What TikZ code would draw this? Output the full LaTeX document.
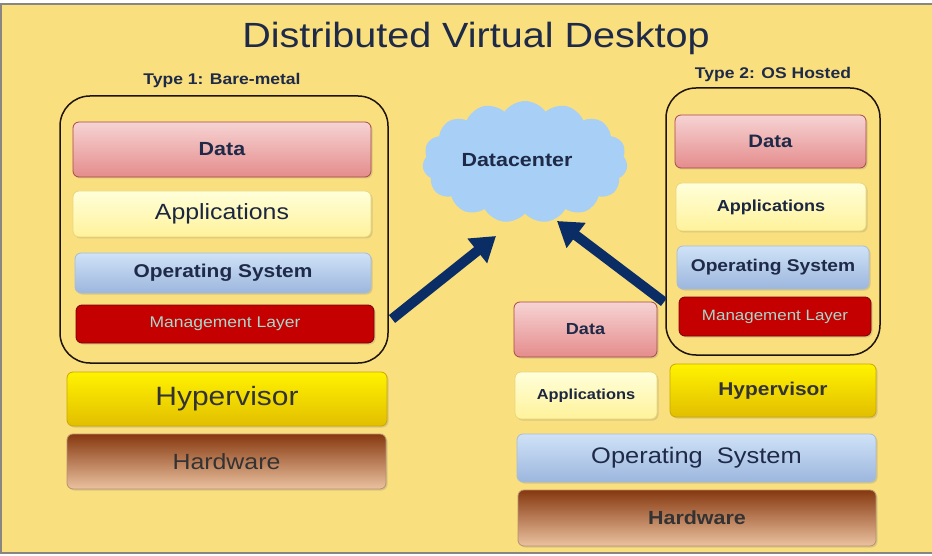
\documentclass[tikz,border=0pt]{standalone}
\usepackage{fontspec}
\setmainfont{Liberation Sans}[FakeStretch=1.13]
\usetikzlibrary{arrows.meta,shapes.symbols,shadows}
\definecolor{bg}{HTML}{F9DF7E}
\definecolor{frame}{HTML}{8A8580}
\definecolor{ink}{HTML}{1E2A48}
\definecolor{navy}{HTML}{0B2D66}
\definecolor{cloudc}{HTML}{A8CFF5}
\definecolor{datat}{HTML}{F6D3D3}
\definecolor{datab}{HTML}{E58C8C}
\definecolor{datad}{HTML}{A84848}
\definecolor{appt}{HTML}{FFFFDA}
\definecolor{appb}{HTML}{FFF29A}
\definecolor{appd}{HTML}{E9D77A}
\definecolor{ost}{HTML}{CFE2F7}
\definecolor{osb}{HTML}{9CB6DD}
\definecolor{osd}{HTML}{A9BCD6}
\definecolor{mgt}{HTML}{C40000}
\definecolor{mgd}{HTML}{7A0000}
\definecolor{mgtext}{HTML}{A6D8CB}
\definecolor{hvt}{HTML}{FFF300}
\definecolor{hvb}{HTML}{E2BE00}
\definecolor{hvd}{HTML}{C9A800}
\definecolor{hwt}{HTML}{86380F}
\definecolor{hwb}{HTML}{EBC2A0}
\definecolor{hwd}{HTML}{B89070}
\tikzset{
  layer/.style={draw, rounded corners=6pt, line width=0.8pt, inner sep=0pt, align=center,
    drop shadow={opacity=0.25, shadow xshift=1.5pt, shadow yshift=-1.5pt}},
  datab/.style={layer, draw=datad, top color=datat, bottom color=datab, text=ink},
  appb/.style={layer, draw=appd, top color=appt, bottom color=appb, text=ink!90!black},
  osbox/.style={layer, draw=osd, top color=ost, bottom color=osb, text=ink},
  mgbox/.style={layer, draw=mgd, fill=mgt, text=mgtext},
  hvbox/.style={layer, draw=hvd, top color=hvt, bottom color=hvb, text=black!80},
  hwbox/.style={layer, draw=hwd, top color=hwt, bottom color=hwb, text=black!80},
  group/.style={draw=black!85!brown, line width=1.5pt, rounded corners=30pt, inner sep=0pt},
  bigarrow/.style={draw=navy, line width=10pt, -{Triangle[length=24pt,width=30pt]}},
}
\begin{document}
\begin{tikzpicture}[x=1pt,y=-1pt]
\useasboundingbox (0,0) rectangle (932,556);
\fill[white] (0,0) rectangle (932,556);
\fill[bg] (2,5) rectangle (932,552);
\draw[frame, line width=2pt] (0,4) -- (932,4);
\draw[frame, line width=2pt] (1,4) -- (1,553);
\draw[frame, line width=2pt] (0,553) -- (932,553);

\node[text=ink, font=\fontsize{35}{40}\selectfont] (title) at (476,38) {Distributed Virtual Desktop};

% Type 1
\node[text=ink, font=\bfseries\fontsize{15.5}{18}\selectfont] (t1) at (222,80) {Type 1: Bare-metal};
\node[group, minimum width=328pt, minimum height=267pt] (g1) at (224,229.5) {};
\node[datab, minimum width=298pt, minimum height=55pt, font=\bfseries\fontsize{19}{22}\selectfont] (ld) at (222,149.5) {Data};
\node[appb, minimum width=298pt, minimum height=46pt, font=\fontsize{22}{26}\selectfont] (la) at (222,214) {Applications};
\node[osbox, minimum width=296pt, minimum height=40pt, font=\bfseries\fontsize{18.5}{22}\selectfont] (lo) at (223,273) {Operating System};
\node[mgbox, minimum width=298pt, minimum height=38pt, font=\fontsize{15.5}{18}\selectfont] (lm) at (225,324) {Management Layer};
\node[hvbox, minimum width=320pt, minimum height=54pt, font=\fontsize{26.5}{30}\selectfont] (lh) at (227,399) {Hypervisor};
\node[hwbox, minimum width=319pt, minimum height=55pt, font=\fontsize{22}{26}\selectfont] (lw) at (226.5,461.5) {Hardware};

% Datacenter
\node[cloud, cloud puffs=15, cloud puff arc=110, aspect=1.7, fill=cloudc, draw=none,
      minimum width=205pt, minimum height=122pt, inner sep=0pt] (dc) at (525,162) {};
\node[text=ink, font=\bfseries\fontsize{19}{22}\selectfont] (dct) at (517,160) {Datacenter};

% Type 2
\node[text=ink, font=\bfseries\fontsize{15.5}{18}\selectfont] (t2) at (773,74) {Type 2: OS Hosted};
\node[group, minimum width=214pt, minimum height=267pt] (g2) at (773,221.5) {};
\node[datab, minimum width=191pt, minimum height=53pt, font=\bfseries\fontsize{18}{22}\selectfont] (rd) at (770.5,141.5) {Data};
\node[appb, minimum width=190pt, minimum height=48pt, font=\bfseries\fontsize{16}{19}\selectfont] (ra) at (771,207) {Applications};
\node[osbox, minimum width=192pt, minimum height=43pt, font=\bfseries\fontsize{17}{20}\selectfont] (ro) at (773,267.5) {Operating System};
\node[mgbox, minimum width=192pt, minimum height=39pt, font=\fontsize{15}{18}\selectfont] (rm) at (775,316.5) {Management Layer};
\node[hvbox, minimum width=206pt, minimum height=53pt, font=\bfseries\fontsize{18.5}{22}\selectfont] (rh) at (773,390.5) {Hypervisor};
\node[datab, minimum width=143pt, minimum height=55pt, font=\bfseries\fontsize{16}{19}\selectfont] (sd) at (585.5,329.5) {Data};
\node[appb, minimum width=142pt, minimum height=47pt, font=\bfseries\fontsize{14.5}{17}\selectfont] (sa) at (586,395.5) {Applications};
\node[osbox, minimum width=359pt, minimum height=48pt, font=\fontsize{22.5}{26}\selectfont] (so) at (696.5,458) {Operating\ \ System};
\node[hwbox, minimum width=358pt, minimum height=56pt, font=\bfseries\fontsize{19}{22}\selectfont] (sw) at (697,518) {Hardware};

% arrows
\coordinate (a1s) at (392,319);
\coordinate (a1e) at (496,236);
\coordinate (a2s) at (664,302);
\coordinate (a2e) at (557,221);
\draw[bigarrow] (a1s) -- (a1e);
\draw[bigarrow] (a2s) -- (a2e);
\end{tikzpicture}
\end{document}
